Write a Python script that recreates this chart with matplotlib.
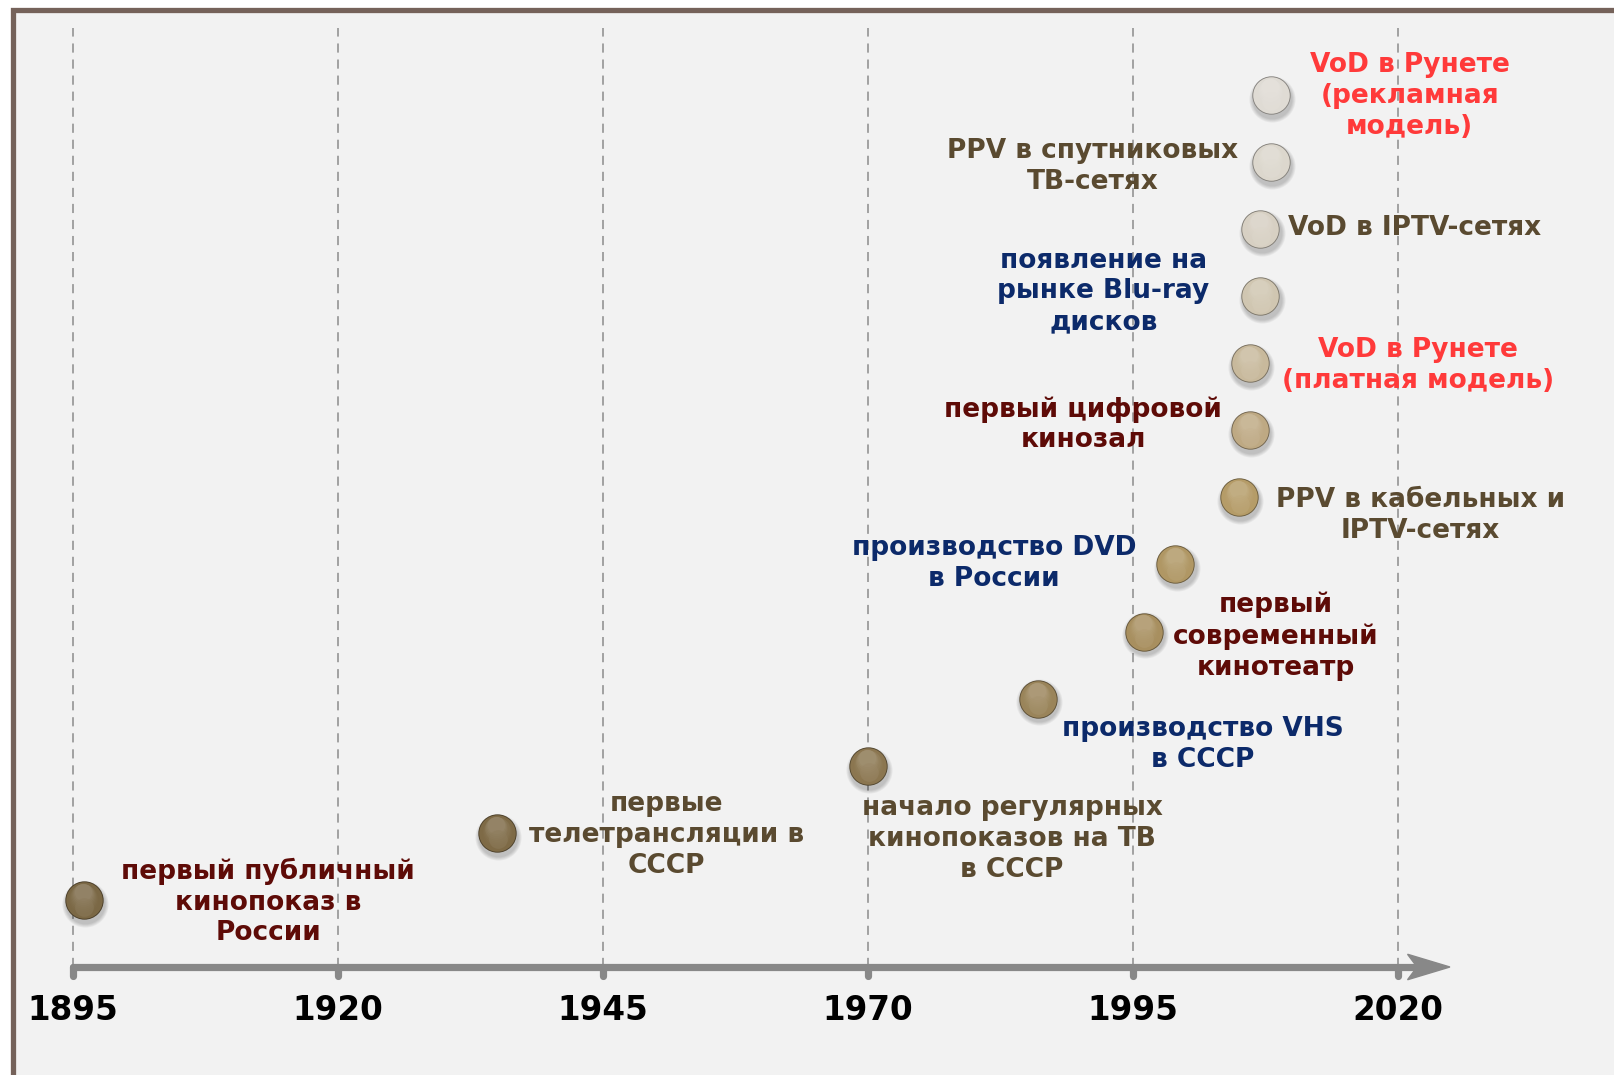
import matplotlib

matplotlib.use("Agg")
import matplotlib.pyplot as plt
import matplotlib.colors as mcolors
from matplotlib.patches import Rectangle, Polygon
from matplotlib.transforms import offset_copy

# timeline events (year, level on the stair)
years = [1896, 1935, 1970, 1986, 1996, 1999, 2005, 2006, 2006, 2007, 2007, 2008, 2008]
levels = [1, 2, 3, 4, 5, 6, 7, 8, 9, 10, 11, 12, 13]
labels = [
    "первый публичный\nкинопоказ в\nРоссии",
    "первые\nтелетрансляции в\nСССР",
    "начало регулярных\nкинопоказов на ТВ\nв СССР",
    "производство VHS\nв СССР",
    "первый\nсовременный\nкинотеатр",
    "производство DVD\nв России",
    "PPV в кабельных и\nIPTV-сетях",
    "первый цифровой\nкинозал",
    "VoD в Рунете\n(платная модель)",
    "появление на\nрынке Blu-ray\nдисков",
    "VoD в IPTV-сетях",
    "PPV в спутниковых\nТВ-сетях",
    "VoD в Рунете\n(рекламная\nмодель)",
]
tick_years = [1895, 1920, 1945, 1970, 1995, 2020]

# layout / style
label_pos = [
    (1913.4, 0.97), (1951.0, 1.97), (1983.6, 1.91), (2001.6, 3.31),
    (2008.5, 4.93), (1981.9, 6.01), (2022.1, 6.73), (1990.3, 8.08),
    (2021.9, 8.96), (1992.2, 10.07), (2021.6, 11.02), (1991.2, 11.93),
    (2021.1, 12.98),
]
DRED, OLIVE, NAVY, RED = "#5e0b07", "#5a4a30", "#0c2a6a", "#ff3a3a"
label_colors = [DRED, OLIVE, OLIVE, NAVY, DRED, NAVY, OLIVE, DRED, RED, NAVY,
                OLIVE, OLIVE, RED]
sphere_colors = ["#7b6845", "#7e6a46", "#8b7650", "#9a845a", "#a88f5f",
                 "#b09764", "#b59c68", "#bea983", "#c8b99c", "#d0c6b1",
                 "#d7d0c3", "#dcd7cd", "#dfdbd4"]

W, H = 1614, 1075
PX_YEAR, PX_LEVEL = 10.6, 67.1
X0, Y0 = 73, 967  # pixel position of 1895 / axis line

fig = plt.figure(figsize=(W / 100, H / 100), dpi=100)
fig.patch.set_facecolor("white")
fig.patches.append(Rectangle((12.5 / W, -0.1), 1.2, 1.1 - 10 / H,
                             transform=fig.transFigure, facecolor="#f2f2f2",
                             edgecolor="#75625a", lw=3.8, zorder=-5))

ax = fig.add_axes([0, 0, 1, 1])
ax.patch.set_alpha(0)
ax.axis("off")
ax.set_xlim(1895 - X0 / PX_YEAR, 1895 + (W - X0) / PX_YEAR)
ax.set_ylim(-(H - Y0) / PX_LEVEL, Y0 / PX_LEVEL)

# dashed gridlines
for t in tick_years:
    ax.plot([t, t], [0, 14.0], color="#8c8c8c", lw=1.1, ls=(0, (6, 4.5)), zorder=1)

# time axis with arrow
axis_end = tick_years[-1] + 1.5
ax.plot([tick_years[0], axis_end], [0, 0], color="#888888", lw=5.2,
        solid_capstyle="round", zorder=2)
for t in tick_years:
    ax.plot([t, t], [0, -0.13], color="#888888", lw=5.2,
            solid_capstyle="round", zorder=2)
    ax.text(t, -0.65, str(t), ha="center", va="center", fontsize=23.5,
            fontweight="bold", color="black")
head = Polygon([(axis_end + 3.4, 0), (axis_end - 0.6, 0.19),
                (axis_end + 0.3, 0), (axis_end - 0.6, -0.19)],
               closed=True, color="#888888", zorder=2)
ax.add_patch(head)


def draw_sphere(x, y, color):
    c = mcolors.to_rgb(color)
    dark = tuple(v * 0.6 for v in c)
    # soft shadow
    for k in range(5):
        tr = offset_copy(ax.transData, fig=fig, x=1.0, y=-2.8, units="points")
        ax.scatter([x], [y], s=(28.5 + k * 1.2) ** 2, color="#000000",
                   alpha=0.045, lw=0, transform=tr, zorder=3)
    ax.scatter([x], [y], s=27.6 ** 2, color=dark, lw=0, zorder=4)
    ax.scatter([x], [y], s=26.3 ** 2, color=c, lw=0, zorder=4)
    # top highlight
    n = 8
    for k in range(n):
        f = (k + 1) / n
        light = tuple(v + (1 - v) * 0.25 * f for v in c)
        tr = offset_copy(ax.transData, fig=fig, x=-0.6 * f, y=5.8 * f, units="points")
        ax.scatter([x], [y], s=(23 - 10.5 * f) ** 2, color=light, lw=0,
                   alpha=0.3, transform=tr, zorder=5)
    # lower reflection
    tr = offset_copy(ax.transData, fig=fig, x=0.5, y=-4.8, units="points")
    ax.scatter([x], [y], s=13.5 ** 2, color=tuple(v + (1 - v) * 0.12 for v in c),
               lw=0, alpha=0.5, transform=tr, zorder=5)


for yr, lv, col in zip(years, levels, sphere_colors):
    draw_sphere(yr, lv, col)

for txt, (lx, ly), col in zip(labels, label_pos, label_colors):
    ax.text(lx, ly, txt, ha="center", va="center", fontsize=19,
            fontweight="bold", color=col, linespacing=1.24, zorder=6)

fig.savefig("out.png", dpi=100)
plt.close(fig)
